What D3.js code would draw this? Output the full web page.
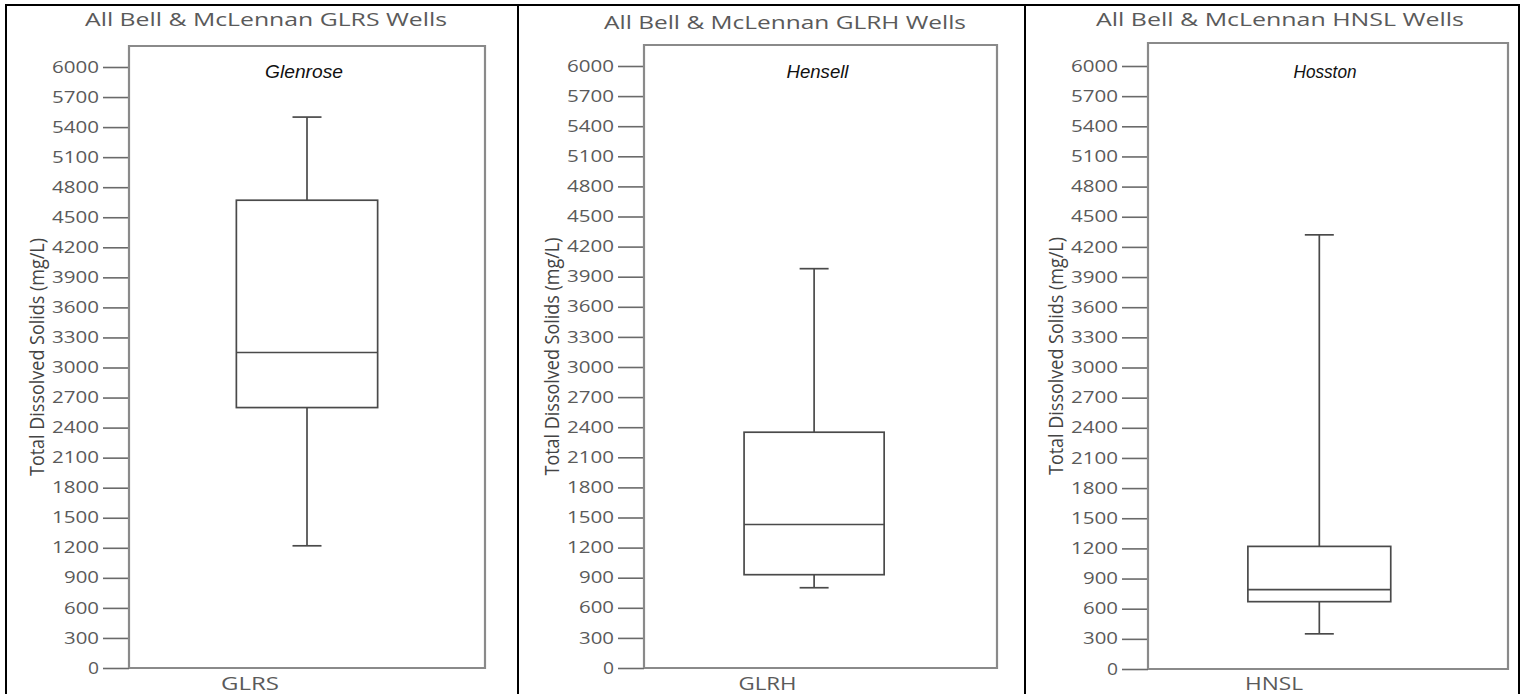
<!DOCTYPE html>
<html>
<head>
<meta charset="utf-8">
<script src="https://cdn.jsdelivr.net/npm/d3@7"></script>
<style>
  html, body { margin: 0; padding: 0; background: #fff; }
  svg { display: block; }
</style>
</head>
<body>
<svg id="chart" width="1532" height="694"></svg>
<script>
// Box-plot summaries of total dissolved solids (mg/L) per aquifer unit
const categories   = ["GLRS", "GLRH", "HNSL"];
const panelTitles  = ["All Bell & McLennan GLRS Wells",
                      "All Bell & McLennan GLRH Wells",
                      "All Bell & McLennan HNSL Wells"];
const formations   = ["Glenrose", "Hensell", "Hosston"];
const whiskerLow   = [1220, 800, 350];
const quartile1    = [2600, 930, 670];
const medians      = [3150, 1430, 790];
const quartile3    = [4670, 2350, 1220];
const whiskerHigh  = [5500, 3980, 4320];
const yTickValues  = [0, 300, 600, 900, 1200, 1500, 1800, 2100, 2400, 2700, 3000,
                      3300, 3600, 3900, 4200, 4500, 4800, 5100, 5400, 5700, 6000];
const yLabel = "Total Dissolved Solids (mg/L)";

// Panel geometry (pixels)
const layout = [
  { axisX: 129,  plotRight: 485,  top: 46, bottom: 668, yTop: 67, titleX: 266,  titleY: 26, titleLen: 362, nameLen: 78, catFrac: 0.34, align: 0.5 },
  { axisX: 644,  plotRight: 997,  top: 45, bottom: 668, yTop: 66, titleX: 785,  titleY: 29, titleLen: 362, nameLen: 62, catFrac: 0.35, align: 0.47 },
  { axisX: 1148, plotRight: 1508, top: 43, bottom: 669, yTop: 66, titleX: 1280, titleY: 26, titleLen: 368, nameLen: 63, catFrac: 0.35, align: 0.46 }
];
const borderXs = [6, 518, 1025, 1519];

const svg = d3.select("#chart");
const gray = "#5a5a5a";
const frameColor = "#8a8a8a";

categories.forEach((cat, i) => {
  const L = layout[i];
  const g = svg.append("g");

  const y = d3.scaleLinear().domain([0, 6000]).range([L.bottom, L.yTop]);
  const x = d3.scaleBand().domain([cat]).range([L.axisX, L.plotRight])
    .paddingInner(0).paddingOuter(0.76).align(L.align);

  // Title
  g.append("text")
    .attr("x", L.titleX).attr("y", L.titleY)
    .attr("text-anchor", "middle")
    .attr("font-family", "Open Sans")
    .attr("font-size", 19)
    .attr("fill", gray)
    .attr("textLength", L.titleLen)
    .attr("lengthAdjust", "spacingAndGlyphs")
    .text(panelTitles[i]);

  // Y axis ticks and labels
  const axis = d3.axisLeft(y).tickValues(yTickValues).tickSize(26).tickPadding(4)
    .tickFormat(d3.format("d"));
  const ax = g.append("g").attr("transform", `translate(${L.axisX},0)`).call(axis);
  ax.select(".domain").remove();
  ax.selectAll(".tick line").attr("stroke", "#6a6a6a").attr("stroke-width", 1.6);
  ax.selectAll(".tick text")
    .attr("font-family", "Open Sans")
    .attr("font-size", 16)
    .attr("fill", gray)
    .attr("textLength", d => String(d).length * 12 - 1)
    .attr("lengthAdjust", "spacingAndGlyphs");

  // Plot frame
  g.append("path")
    .attr("d", `M${L.axisX},${L.bottom} V${L.top} H${L.plotRight} V${L.bottom} H${L.axisX}`)
    .attr("fill", "none")
    .attr("stroke", frameColor)
    .attr("stroke-width", 2.2);

  // Y axis title
  g.append("text")
    .attr("transform", `translate(${L.axisX - 85},${(L.top + L.bottom) / 2}) rotate(-90)`)
    .attr("text-anchor", "middle")
    .attr("font-family", "Open Sans")
    .attr("font-size", 20)
    .attr("fill", "#444")
    .attr("textLength", 238)
    .attr("lengthAdjust", "spacingAndGlyphs")
    .text(yLabel);

  // Formation name
  g.append("text")
    .attr("x", (L.axisX + L.plotRight) / 2 - 3).attr("y", 78)
    .attr("text-anchor", "middle")
    .attr("font-family", "Liberation Sans, Arial, sans-serif")
    .attr("font-style", "italic")
    .attr("font-size", 18)
    .attr("fill", "#111")
    .attr("textLength", L.nameLen)
    .attr("lengthAdjust", "spacingAndGlyphs")
    .text(formations[i]);

  // Category label
  g.append("text")
    .attr("x", L.axisX + L.catFrac * (L.plotRight - L.axisX)).attr("y", 690)
    .attr("text-anchor", "middle")
    .attr("font-family", "Open Sans")
    .attr("font-size", 18)
    .attr("fill", gray)
    .attr("textLength", 58)
    .attr("lengthAdjust", "spacingAndGlyphs")
    .text(cat);

  // Box and whiskers
  const x0 = x(cat), bw = x.bandwidth(), cx = x0 + bw / 2, cap = 29;
  const boxStroke = "#4a4a4a";
  const bg = g.append("g").attr("stroke", boxStroke).attr("stroke-width", 1.7).attr("fill", "none");
  bg.append("line").attr("x1", cx).attr("x2", cx).attr("y1", y(whiskerHigh[i])).attr("y2", y(quartile3[i]));
  bg.append("line").attr("x1", cx).attr("x2", cx).attr("y1", y(quartile1[i])).attr("y2", y(whiskerLow[i]));
  bg.append("line").attr("x1", cx - cap / 2).attr("x2", cx + cap / 2).attr("y1", y(whiskerHigh[i])).attr("y2", y(whiskerHigh[i]));
  bg.append("line").attr("x1", cx - cap / 2).attr("x2", cx + cap / 2).attr("y1", y(whiskerLow[i])).attr("y2", y(whiskerLow[i]));
  bg.append("rect")
    .attr("x", x0).attr("width", bw)
    .attr("y", y(quartile3[i])).attr("height", y(quartile1[i]) - y(quartile3[i]))
    .attr("fill", "#fff");
  bg.append("line").attr("x1", x0).attr("x2", x0 + bw).attr("y1", y(medians[i])).attr("y2", y(medians[i]));
});

// Panel borders
const borders = svg.append("g").attr("stroke", "#000").attr("stroke-width", 2);
borders.append("line").attr("x1", borderXs[0]).attr("x2", borderXs[borderXs.length - 1]).attr("y1", 5).attr("y2", 5);
borderXs.forEach(bx => {
  borders.append("line").attr("x1", bx).attr("x2", bx).attr("y1", 4).attr("y2", 694);
});
</script>
</body>
</html>
